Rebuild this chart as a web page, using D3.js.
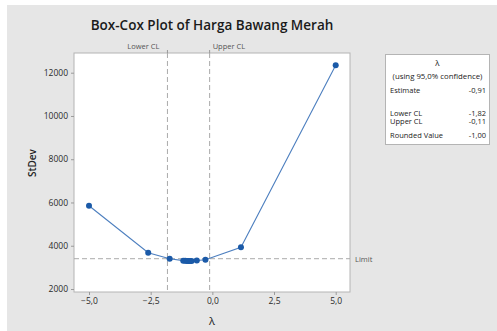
<!DOCTYPE html>
<html>
<head>
<meta charset="utf-8">
<script src="https://cdn.jsdelivr.net/npm/d3@7"></script>
<style>
  html, body { margin: 0; padding: 0; background: #ffffff; }
  svg { display: block; font-family: "Open Sans", "Noto Sans", sans-serif; }
</style>
</head>
<body>
<svg id="chart" width="497" height="331"></svg>
<script>
// Box-Cox search: lambda values and the pooled standard deviation at each
const lambdas = [-5.0, -2.6, -1.73, -1.18, -1.1, -1.03, -0.97, -0.91, -0.84, -0.63, -0.28, 1.16, 5.0];
const stdevs  = [5850, 3680, 3400, 3310, 3305, 3300, 3298, 3296, 3300, 3315, 3350, 3930, 12350];

const xTicks = [-5.0, -2.5, 0.0, 2.5, 5.0];
const yTicks = [2000, 4000, 6000, 8000, 10000, 12000];

const limitValue = 3400;
const lowerCL = -1.82;
const upperCL = -0.11;

const tableRows = [
  { label: "Estimate", value: "-0,91", y: 93 },
  { label: "Lower CL", value: "-1,82", y: 115.5 },
  { label: "Upper CL", value: "-0,11", y: 124 },
  { label: "Rounded Value", value: "-1,00", y: 138 }
];

const fmt = d => d3.format(".1f")(d).replace(".", ",");

const svg = d3.select("#chart");

// grey panel behind everything
svg.append("rect").attr("x", 7).attr("y", 5).attr("width", 490).attr("height", 326).attr("fill", "#e6e6e6");

const plot = { left: 74, top: 53, right: 350, bottom: 292 };

const x = d3.scaleLinear().domain([-5, 5]).range([89, 335.7]);
const y = d3.scaleLinear().domain([2000, 12000]).range([289, 72.7]);

// plot area
svg.append("rect")
  .attr("x", plot.left).attr("y", plot.top)
  .attr("width", plot.right - plot.left).attr("height", plot.bottom - plot.top)
  .attr("fill", "#ffffff").attr("stroke", "#b4b4b4").attr("stroke-width", 1);

// title
svg.append("text")
  .attr("x", 212).attr("y", 30)
  .attr("text-anchor", "middle")
  .attr("font-size", 13.5).attr("font-weight", 600).attr("fill", "#1a1a1a")
  .text("Box-Cox Plot of Harga Bawang Merah");

// axes
const xAxis = svg.append("g").attr("transform", `translate(0,${plot.bottom})`)
  .call(d3.axisBottom(x).tickValues(xTicks).tickFormat(fmt).tickSize(3).tickPadding(3));
const yAxis = svg.append("g").attr("transform", `translate(${plot.left},0)`)
  .call(d3.axisLeft(y).tickValues(yTicks).tickFormat(d3.format("d")).tickSize(3).tickPadding(3));
[xAxis, yAxis].forEach(g => {
  g.select(".domain").remove();
  g.selectAll(".tick line").attr("stroke", "#9a9a9a");
  g.selectAll(".tick text").attr("font-size", 8.5).attr("fill", "#2a2a2a")
    .attr("font-family", "'Open Sans', 'Noto Sans', sans-serif");
});

// axis titles
svg.append("text")
  .attr("x", 212).attr("y", 325).attr("text-anchor", "middle")
  .attr("font-size", 11).attr("fill", "#222").text("λ");
svg.append("text")
  .attr("transform", "translate(36,163) rotate(-90)")
  .attr("text-anchor", "middle")
  .attr("font-size", 10).attr("font-weight", 600).attr("fill", "#222").text("StDev");

// limit reference line
svg.append("line")
  .attr("x1", plot.left).attr("x2", plot.right)
  .attr("y1", y(limitValue)).attr("y2", y(limitValue))
  .attr("stroke", "#aaaaaa").attr("stroke-width", 1).attr("stroke-dasharray", "5,3");
svg.append("text")
  .attr("x", 355).attr("y", y(limitValue) + 3)
  .attr("font-size", 7.5).attr("fill", "#555").text("Limit");

// confidence limit lines
[{ v: lowerCL, name: "Lower CL", anchor: "end", dx: -8 },
 { v: upperCL, name: "Upper CL", anchor: "start", dx: 3 }].forEach(c => {
  svg.append("line")
    .attr("x1", x(c.v)).attr("x2", x(c.v))
    .attr("y1", plot.top).attr("y2", plot.bottom)
    .attr("stroke", "#aaaaaa").attr("stroke-width", 1).attr("stroke-dasharray", "5,3");
  svg.append("line")
    .attr("x1", x(c.v)).attr("x2", x(c.v))
    .attr("y1", plot.top - 3).attr("y2", plot.top)
    .attr("stroke", "#999");
  svg.append("text")
    .attr("x", x(c.v) + c.dx).attr("y", 49)
    .attr("text-anchor", c.anchor)
    .attr("font-size", 7.5).attr("fill", "#555").text(c.name);
});

// StDev curve
const pts = lambdas.map((l, i) => [l, stdevs[i]]);
svg.append("path")
  .datum(pts)
  .attr("fill", "none").attr("stroke", "#4d7fbf").attr("stroke-width", 1.1)
  .attr("d", d3.line().x(d => x(d[0])).y(d => y(d[1])));
svg.selectAll("circle.pt").data(pts).join("circle")
  .attr("class", "pt")
  .attr("cx", d => x(d[0])).attr("cy", d => y(d[1]))
  .attr("r", 3).attr("fill", "#1b5aa8");

// lambda summary table
const box = svg.append("g");
box.append("rect")
  .attr("x", 385.5).attr("y", 54.5).attr("width", 104).attr("height", 90)
  .attr("fill", "#ffffff").attr("stroke", "#b4b4b4");
box.append("text").attr("x", 437.5).attr("y", 66).attr("text-anchor", "middle")
  .attr("font-size", 8).attr("fill", "#222").text("λ");
box.append("text").attr("x", 437.5).attr("y", 79).attr("text-anchor", "middle")
  .attr("font-size", 7.8).attr("fill", "#222").text("(using 95,0% confidence)");
tableRows.forEach(r => {
  box.append("text").attr("x", 390).attr("y", r.y)
    .attr("font-size", 7.5).attr("fill", "#222").text(r.label);
  box.append("text").attr("x", 486).attr("y", r.y).attr("text-anchor", "end")
    .attr("font-size", 7.5).attr("fill", "#222").text(r.value);
});
</script>
</body>
</html>
